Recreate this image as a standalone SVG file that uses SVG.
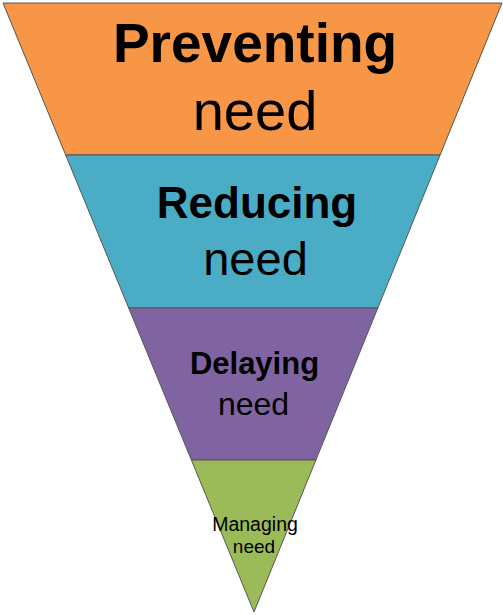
<svg xmlns="http://www.w3.org/2000/svg" width="503" height="615" viewBox="0 0 503 615">
<style>
.band{stroke:#555;stroke-width:1;stroke-linejoin:miter}
.t{font-family:"Liberation Sans",Arial,sans-serif;fill:#000;text-anchor:middle}
.b{font-weight:bold}
</style>
<rect width="503" height="615" fill="#fff"/>
<g id="preventing">
<polygon class="band" fill="#F79646" points="3,3 502,3 440.1,155 65.7,155"/>
<text class="t b" x="255" y="62" font-size="55">Preventing</text>
<text class="t" x="255" y="130" font-size="56">need</text>
</g>
<g id="reducing">
<polygon class="band" fill="#4BACC6" points="65.7,155 440.1,155 377.8,308 128.7,308"/>
<text class="t b" x="257" y="218" font-size="44">Reducing</text>
<text class="t" x="255.5" y="275" font-size="47">need</text>
</g>
<g id="delaying">
<polygon class="band" fill="#8064A2" points="128.7,308 377.8,308 315.9,460 191.4,460"/>
<text class="t b" x="254.5" y="374" font-size="31">Delaying</text>
<text class="t" x="253.5" y="415" font-size="32">need</text>
</g>
<g id="managing">
<polygon class="band" fill="#9BBB59" points="191.4,460 315.9,460 254,612"/>
<text class="t" x="255" y="531" font-size="19.5">Managing</text>
<text class="t" x="254" y="553" font-size="19">need</text>
</g>
<g id="connectors"></g>
</svg>
